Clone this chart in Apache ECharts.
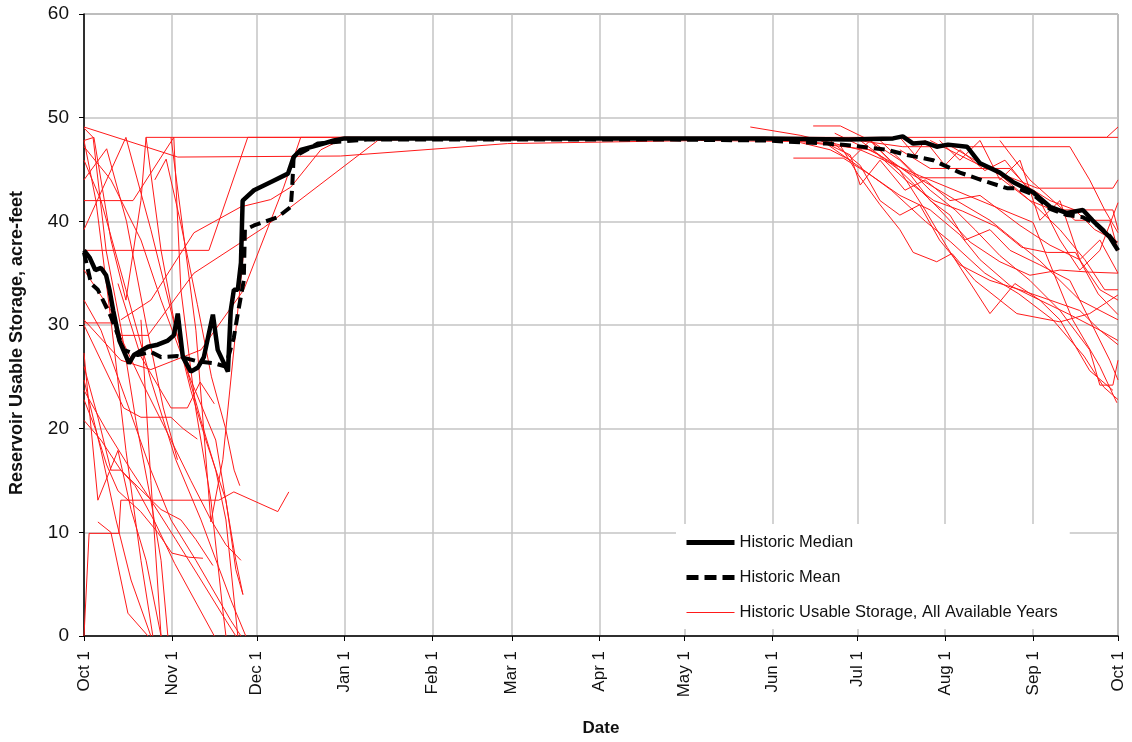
<!DOCTYPE html>
<html>
<head>
<meta charset="utf-8">
<script src="https://cdn.jsdelivr.net/npm/echarts@6/dist/echarts.min.js"></script>
<style>
  html, body { margin: 0; padding: 0; background: #fff; }
  #chart { width: 1132px; height: 742px; }
</style>
</head>
<body>
<div id="chart"></div>
<script>
// day of water year (Oct 1 = 0) for each month start
var monthDays = [0, 31, 61, 92, 123, 151, 182, 212, 243, 273, 304, 335, 365];
var monthLabels = ['Oct 1', 'Nov 1', 'Dec 1', 'Jan 1', 'Feb 1', 'Mar 1', 'Apr 1',
                   'May 1', 'Jun 1', 'Jul 1', 'Aug 1', 'Sep 1', 'Oct 1'];

// [day, acre-feet]
var historicMedian = [
  [0, 37.2], [2, 36.5], [4, 35.3], [6, 35.5], [7.8, 34.8], [9, 33.4], [10.3, 31.4],
  [12.5, 28.5], [15.9, 26.3], [17.6, 27.1], [22.6, 27.9], [26, 28.1], [29.6, 28.5],
  [31.7, 29], [33.1, 31.1], [34.9, 26.9], [37.7, 25.5], [40.2, 25.9], [42.3, 26.9],
  [45.5, 31], [47.2, 27.6], [50.8, 25.5], [51.8, 31.4], [52.9, 33.4], [54.3, 33.4],
  [55.4, 36], [56, 42], [60, 43], [66, 43.8], [72, 44.6], [74, 46.2], [76.5, 46.9],
  [82, 47.3], [88.2, 47.8], [92, 48], [150, 48], [200, 48], [240, 48], [270, 47.9],
  [285.6, 48], [289, 48.2], [292.7, 47.5], [297, 47.6], [301, 47.2], [305, 47.4],
  [311.7, 47.2], [316.3, 45.6], [323.3, 44.7], [327.9, 43.8], [335, 42.8], [341, 41.4],
  [347, 40.8], [352.6, 41.1], [356, 40.1], [362, 38.5], [365, 37.2]
];

var historicMean = [
  [0, 37], [2.5, 34], [4.9, 33.4], [9.5, 30.8], [14, 27.6], [19, 27.1], [23.6, 27.4],
  [27.2, 26.9], [33, 27], [40, 26.5], [46, 26.3], [50, 26], [52.9, 28.8], [54.3, 31.1],
  [56.4, 34.3], [56.8, 39.2], [60, 39.6], [68.4, 40.4], [73, 41.4], [73.5, 43.3],
  [74, 46.2], [82.5, 47.5], [100, 47.9], [200, 47.9], [240, 47.8], [262.3, 47.5],
  [271.5, 47.3], [283.5, 46.9], [290.5, 46.4], [299.7, 45.9], [309.2, 44.7],
  [318.8, 43.8], [325.8, 43.2], [329.3, 43.2], [335, 42.6], [341, 41.2], [347, 40.6],
  [352.6, 40.4], [358, 39.6], [362, 38.6], [365, 37.6]
];

// individual years, fall drawdown / refill part
var fallRuns = [
  [[0, 49], [3.2, 48.1], [7.8, 37.2], [13, 29.8], [18.3, 20.8], [23.6, 13.1], [27.2, 7.3], [29.6, 0]],
  [[0, 47.8], [3.5, 48.1], [9.5, 38.2], [14.8, 32.4], [20.1, 42], [21.9, 48.1], [365, 48.1]],
  [[0, 49.1], [33.1, 46.2], [90.6, 46.3], [149.5, 47.5], [217.6, 47.8], [252.8, 47.7], [277.5, 46.9],
   [298.7, 43.5], [319.8, 40.1], [337.4, 36.2], [351.5, 32.4], [365, 30.5]],
  [[0, 39.2], [14.8, 48.1], [23.6, 39.2], [32.4, 29.5], [41.3, 20.8], [46.5, 16], [50.1, 11.2], [54.3, 0]],
  [[0, 42], [17.3, 42], [31.7, 48.1], [34.2, 33.4], [39.5, 21.8], [44.8, 13.1], [49, 2.5], [50.1, 0]],
  [[0, 37.2], [44.1, 37.2], [57.8, 48.1], [94, 48.1]],
  [[0, 47.8], [4.2, 42], [9.5, 30.5], [14.8, 17.9], [20.1, 7.3], [24.3, 0]],
  [[0, 47.2], [9.5, 44], [20.1, 38.2], [27.2, 32.4], [37.7, 24.7], [46.5, 18.9], [53.6, 7.3], [56.1, 4]],
  [[0, 32.4], [6, 29.5], [14.8, 22.8], [23.6, 16], [30.7, 11.2], [39.5, 7.3], [51.8, 1.5], [55.4, 0]],
  [[0, 27.3], [4.9, 13.1], [12, 17.9], [16.6, 12.2], [21.9, 7.3], [27.2, 0]],
  [[0, 23.7], [7.8, 19.9], [16.6, 16], [23.6, 13.1], [32.4, 9.3], [41.3, 5.4], [50.1, 1.5], [53.6, 0]],
  [[0, 20.8], [6, 18.9], [13, 16], [20.1, 14.1], [27.2, 12.2], [34.2, 11.2], [39.5, 9.3], [45.5, 6.8]],
  [[0, 0], [1.8, 9.9], [12.3, 9.9], [13, 13.1], [47.6, 13.1], [52.9, 13.9], [68.4, 12], [72.3, 13.9]],
  [[4.9, 11], [9.5, 10], [15.5, 2.2], [22.6, 0]],
  [[0, 30.2], [10.6, 30.2], [20.1, 24.7], [30.7, 18.9], [37.7, 15], [44.8, 11.2], [50.1, 8.8], [55.4, 7.3]],
  [[0, 35.3], [9.5, 31.4], [13, 29], [22.6, 29], [38.8, 35], [63.5, 39.4], [103.7, 47.8], [129.4, 48]],
  [[0, 30.5], [13, 26.6], [23.6, 25.7], [41.3, 27.6], [56.4, 33.4], [70.5, 43.3], [76.5, 48.1], [97.7, 48.1]],
  [[13, 30.5], [23.6, 32.4], [38.8, 38.9], [55.4, 41.4], [65.9, 42.1], [73, 43.3], [83.6, 46.9], [92.4, 48.1]],
  [[21.9, 48.1], [27.2, 37.2], [32.4, 29.5], [37.7, 23.7], [43, 18.9], [50.1, 13.1], [53.6, 6.4], [56.1, 4]],
  [[30.7, 48.1], [39.5, 29.5], [44.8, 11], [49, 17], [53.6, 29.5], [56.4, 37.2]],
  [[0, 24.7], [6, 17.9], [11.3, 11.2], [16.6, 5.4], [23.6, 0]],
  [[20.1, 30.5], [23.6, 15], [27.2, 0]],
  [[12, 34], [20, 27], [30.7, 22], [36.5, 22], [41, 24.5], [46, 22.4]],
  [[0, 45.9], [6, 42], [14.8, 33.4], [23.6, 24.7], [32.4, 17], [41.3, 11.2], [51.8, 3.5], [57.1, 0]],
  [[0, 44], [8, 47], [15, 40], [22, 30], [28, 22], [33, 17]],
  [[0, 30], [14, 22], [20.1, 21.1], [30.7, 21.1], [35, 20], [40, 19]],
  [[0, 22.8], [4, 20], [8, 16.5], [12, 14], [16, 13], [20, 12], [26, 10], [31, 8], [37, 7.6], [42, 7.5]],
  [[0, 26], [5, 21], [9.5, 16], [13, 16], [18, 14.5], [25, 11], [32, 7], [40, 3], [46, 0]],
  [[25, 44], [29, 46], [34, 40], [40, 32], [45, 25], [50, 20], [53, 16], [55, 14.5]]
];

// individual years, summer drawdown part
var summerRuns = [
  [[235.2, 49.1], [252.8, 48.3], [274, 46.9], [295, 44.4], [316.3, 42], [335, 39.9], [349, 30.5], [358.6, 26], [364.6, 22.5]],
  [[257.4, 49.2], [267, 49.2], [277.5, 47.8], [288, 45.9], [298.7, 43], [307.5, 41.1], [314.5, 39.2], [323.3, 36.7],
   [333.9, 34.3], [344.5, 31.4], [355, 27.6], [358.6, 24.2], [363.2, 24.2], [365, 26.6]],
  [[250.4, 46.1], [268, 46.1], [277.5, 44.5], [288, 42.5], [298.7, 41.1], [309.2, 38.7], [316.3, 36.3], [326.9, 33.8],
   [337.4, 32.4], [348, 31], [358.6, 29.5], [365, 28.5]],
  [[267, 47.3], [273.3, 44.5], [281, 41.6], [288, 39.2], [292.7, 37], [301, 36.1], [306.4, 36.9], [314.5, 34.3],
   [323.3, 32.4], [329.3, 31.1], [344.5, 30.3], [355, 31.1], [365, 32.9]],
  [[277.5, 47.8], [288, 44.9], [296.9, 41.1], [304.7, 37.5], [319.8, 31.1], [328.6, 34], [337.4, 32.4], [344.5, 30.5],
   [355, 25.6], [363.2, 23.7]],
  [[323.3, 48.1], [361, 48.1], [365, 49.1]],
  [[273.3, 47.8], [289, 47.2], [337.4, 47.2], [348, 47.2], [355, 44], [360.3, 41.1], [365, 38.9]],
  [[288, 46.9], [298.7, 45.1], [326.9, 45.1], [337.4, 42], [344.5, 38.2], [351.5, 35.3], [358.6, 37.2], [365, 41.8]],
  [[281, 47.8], [295, 44.2], [323.3, 44.2], [333.9, 42], [344.5, 39.2], [353.3, 36.3], [360.3, 33.4], [365, 33.4]],
  [[298.7, 47.8], [316.3, 45.4], [336.5, 43.2], [363.2, 43.2], [365, 44]],
  [[305.7, 47.3], [323.3, 44.5], [333.9, 42], [342, 41.1], [363.2, 41.1], [365, 39.2]],
  [[323.3, 47.8], [333.9, 44], [349.8, 40.1], [362.1, 40.1], [365, 37.2]],
  [[302, 47.8], [309.2, 45.9], [316.3, 47.8], [323.3, 44], [330.4, 45.9], [337.4, 40.1], [344.5, 42], [351.5, 36.3],
   [358.6, 38.2], [365, 35]],
  [[263.4, 47.8], [274, 45.4], [281, 42], [288, 40.6], [295, 41.6], [302, 38.2], [309.2, 35.8], [319.8, 34.3],
   [330.4, 33.4], [341, 32.4], [351.5, 31.4], [358.6, 29.5], [365, 28.1]],
  [[252.8, 47.6], [263.4, 46.9], [270.5, 45.9], [277.5, 47.8], [284.6, 45.9], [291.7, 44.5], [298.7, 42], [305.7, 40.6],
   [311, 38.2], [319.8, 39.2], [326.9, 37.2], [337.4, 35.8], [348, 34.3], [356.8, 29.5], [362.1, 26.6], [365, 24.7]],
  [[274, 47.8], [288, 44.9], [300.4, 41.6], [312.8, 38], [323.3, 36.1], [333.9, 34.8], [344.5, 35.3], [355, 35.1], [365, 35]],
  [[288, 48.1], [293.3, 46.4], [296.9, 47.8], [303.9, 45.4], [309.2, 46.9], [318, 44.9], [325.1, 45.9], [332.2, 43.5],
   [341, 42], [349.8, 41.1], [356.8, 39.2], [365, 38]],
  [[259.9, 47.8], [270.5, 46.4], [274, 43.5], [281, 45.9], [289.8, 43], [296.9, 44], [305.7, 42], [316.3, 42.5],
   [330.4, 39.6], [341, 37.7], [351.5, 36.3], [358.6, 33.4], [365, 32.4]],
  [[245, 48], [262, 47.5], [275, 45], [285, 43], [297, 40], [306, 38], [318, 35], [330, 33], [342, 30.5],
   [353, 27], [360, 24], [365, 22.8]],
  [[265, 48.5], [280, 46.5], [290, 44], [300, 42], [310, 41], [322, 39.5], [331, 37.5], [340, 37], [350, 37],
   [358, 33], [365, 31]]
];

var FONT = 'Arial, "Liberation Sans", sans-serif';
var RED_NAME = 'Historic Usable Storage, All Available Years';

var chart = echarts.init(document.getElementById('chart'));

var series = [];
fallRuns.concat(summerRuns).forEach(function (run) {
  series.push({
    name: RED_NAME,
    type: 'line',
    data: run,
    symbol: 'none',
    lineStyle: { color: '#ff1a1a', width: 1 },
    itemStyle: { color: '#ff1a1a' },
    silent: true,
    z: 2
  });
});
series.push({
  name: 'Historic Mean',
  type: 'line',
  data: historicMean,
  symbol: 'none',
  lineStyle: { color: '#000', width: 4, type: [11, 6] },
  itemStyle: { color: '#000' },
  z: 3
});
series.push({
  name: 'Historic Median',
  type: 'line',
  data: historicMedian,
  symbol: 'none',
  lineStyle: { color: '#000', width: 4.5 },
  itemStyle: { color: '#000' },
  z: 4
});

chart.setOption({
  animation: false,
  backgroundColor: '#fff',
  textStyle: { fontFamily: FONT },
  grid: {
    left: 83, right: 14, top: 14, bottom: 106,
    show: true, borderColor: '#555', borderWidth: 1
  },
  legend: {
    data: [
      { name: 'Historic Median', itemStyle: { opacity: 0 }, lineStyle: { width: 5, color: '#000' } },
      { name: 'Historic Mean', itemStyle: { opacity: 0 }, lineStyle: { width: 5, color: '#000', type: [12, 6] } },
      { name: RED_NAME, itemStyle: { opacity: 0 }, lineStyle: { width: 1.2, color: '#ff1a1a' } }
    ],
    orient: 'vertical',
    left: 676, top: 524,
    backgroundColor: '#fff',
    padding: [10, 12, 8, 8],
    itemWidth: 48, itemHeight: 16, itemGap: 18,
    textStyle: { fontSize: 16.5, color: '#111', fontFamily: FONT }
  },
  xAxis: {
    type: 'value',
    min: 0, max: 365,
    name: 'Date',
    nameLocation: 'middle',
    nameGap: 84,
    nameTextStyle: { fontSize: 17, fontWeight: 'bold', color: '#111' },
    axisLine: { lineStyle: { color: '#000', width: 1.5 } },
    axisTick: { show: true, length: 5, customValues: monthDays, lineStyle: { color: '#000' } },
    axisLabel: {
      customValues: monthDays,
      rotate: 90,
      fontSize: 17,
      color: '#111',
      margin: 15,
      formatter: function (v) {
        var i = monthDays.indexOf(Math.round(v));
        return i >= 0 ? monthLabels[i] : '';
      }
    },
    splitLine: { show: true, lineStyle: { color: '#c4c4c4', width: 1.5 } }
  },
  yAxis: {
    type: 'value',
    min: 0, max: 60, interval: 10,
    name: 'Reservoir Usable Storage, acre-feet',
    nameLocation: 'middle',
    nameGap: 58,
    nameTextStyle: { fontSize: 18, fontWeight: 'bold', color: '#111', padding: [0, 36, 0, 0] },
    axisLine: { show: true, lineStyle: { color: '#000', width: 1.5 } },
    axisTick: { show: true, length: 5, lineStyle: { color: '#000' } },
    axisLabel: { fontSize: 19, color: '#111', margin: 15 },
    splitLine: { show: true, lineStyle: { color: '#c4c4c4', width: 1.5 } }
  },
  series: series
});
</script>
</body>
</html>
